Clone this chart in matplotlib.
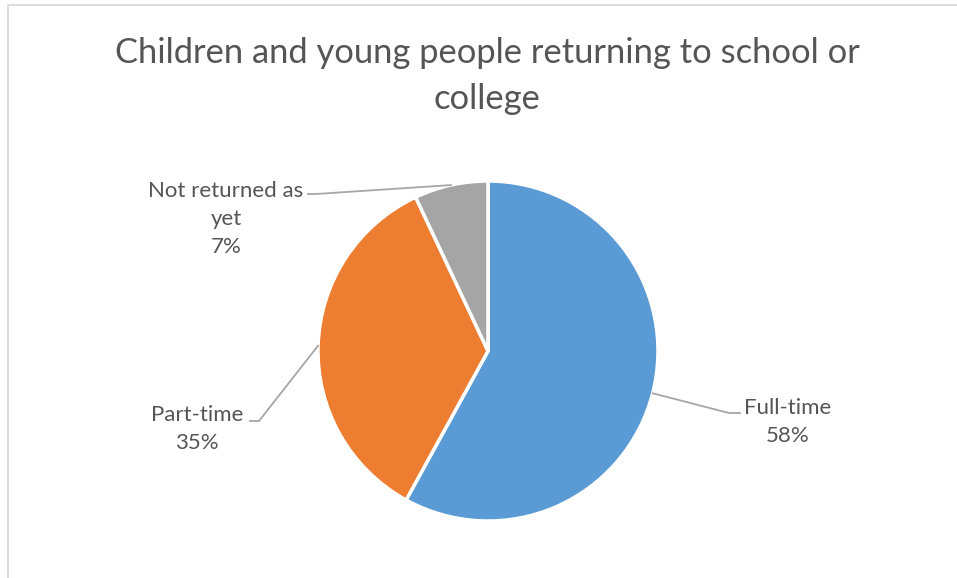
import numpy as np
import matplotlib
matplotlib.use("Agg")
import matplotlib.pyplot as plt

title = "Children and young people returning to school or\ncollege"
categories = ["Full-time", "Part-time", "Not returned as\nyet"]
shares = [58, 35, 7]
colors = ["#5B9BD5", "#ED7D31", "#A5A5A5"]

W, H = 957, 578
plt.rcParams["font.family"] = ["Lato", "DejaVu Sans"]
text_color = "#555555"
line_color = "#A6A6A6"

fig = plt.figure(figsize=(W / 100, H / 100), dpi=100)
ax = fig.add_axes([0, 0, 1, 1])
ax.axis("off")

def py(y):
    return H - y

# chart frame
ax.plot([8, 8, W + 5], [py(H + 5), py(5), py(5)], color="#D9D9D9", lw=1.3,
        solid_joinstyle="miter")

cx, cy, r = 488, 351, 170
wedges, _ = ax.pie(shares, colors=colors, startangle=90, counterclock=False,
                   center=(cx, py(cy)), radius=r,
                   wedgeprops=dict(edgecolor="white", linewidth=2.5))
ax.set_xlim(0, W)
ax.set_ylim(0, H)
ax.set_aspect("equal")

ax.text(487, py(76), title, ha="center", va="center", fontsize=24.8,
        color=text_color, linespacing=1.55)

# label layouts: text centre, elbow of the leader line, end of the leader line
label_layout = [
    dict(tx=788, ty=422, elbow=(729, 413), end=(740, 413)),
    dict(tx=197, ty=429, elbow=(259, 421), end=(250, 421)),
    dict(tx=226, ty=219, elbow=(316, 194), end=(308, 194)),
]

for w, cat, val, lay in zip(wedges, categories, shares, label_layout):
    mid = np.deg2rad((w.theta1 + w.theta2) / 2)
    x0 = cx + r * np.cos(mid)
    y0 = py(cy) + r * np.sin(mid)
    ex, ey = lay["elbow"]
    nx, ny = lay["end"]
    ax.plot([x0, ex, nx], [y0, py(ey), py(ny)], color=line_color, lw=1.3)
    ax.text(lay["tx"], py(lay["ty"]), f"{cat}\n{val}%", ha="center", va="center",
            fontsize=16, color=text_color, linespacing=1.5)

fig.savefig("out.png", dpi=100, facecolor="white")
